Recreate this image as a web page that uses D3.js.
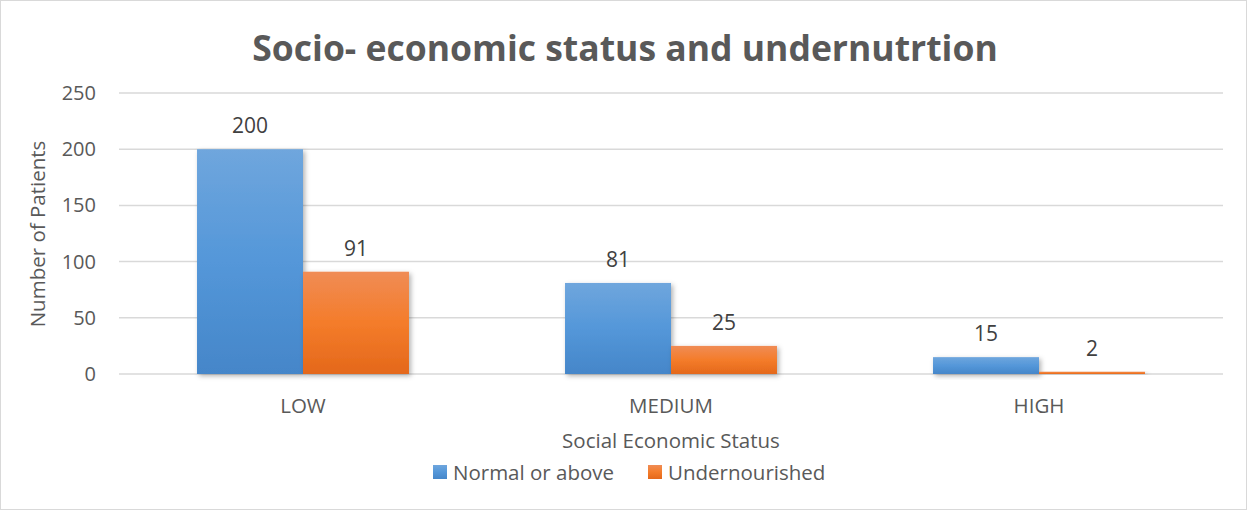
<!DOCTYPE html>
<html><head><meta charset="utf-8">
<script src="https://cdn.jsdelivr.net/npm/d3@7"></script>
<style>body{margin:0;background:#fff;font-family:"Open Sans",sans-serif;}</style>
</head><body><svg id="c" width="1249" height="511"></svg>
<script>
const categories = ["LOW", "MEDIUM", "HIGH"];
const seriesNames = ["Normal or above", "Undernourished"];
const normalValues = [200, 81, 15];
const underValues = [91, 25, 2];
const yTicks = [0, 50, 100, 150, 200, 250];

const svg = d3.select("#c");
const W = 1249, H = 511;
const m = {l:119, r:1223, t:93, b:374};

svg.append("rect").attr("x",0.5).attr("y",0.5).attr("width",W-3).attr("height",H-2)
  .attr("fill","#fff").attr("stroke","#d9d9d9");

const defs = svg.append("defs");
const g1 = defs.append("linearGradient").attr("id","gb").attr("x1",0).attr("y1",0).attr("x2",0).attr("y2",1);
g1.append("stop").attr("offset","0%").attr("stop-color","#6fa6dd");
g1.append("stop").attr("offset","50%").attr("stop-color","#5497d9");
g1.append("stop").attr("offset","100%").attr("stop-color","#4586c9");
const g2 = defs.append("linearGradient").attr("id","go").attr("x1",0).attr("y1",0).attr("x2",0).attr("y2",1);
g2.append("stop").attr("offset","0%").attr("stop-color","#f08c55");
g2.append("stop").attr("offset","50%").attr("stop-color","#f47c2a");
g2.append("stop").attr("offset","100%").attr("stop-color","#e4681b");
const f = defs.append("filter").attr("id","sh").attr("x","-20%").attr("y","-20%").attr("width","150%").attr("height","150%");
f.append("feDropShadow").attr("dx",2).attr("dy",2).attr("stdDeviation",2.5).attr("flood-color","#000").attr("flood-opacity",0.3);

const y = d3.scaleLinear().domain([0,250]).range([m.b, m.t]);
const x0 = d3.scaleBand().domain(categories).range([m.l, m.r]).paddingInner(0.424).paddingOuter(0.212);
const x1 = d3.scaleBand().domain(seriesNames).range([0, x0.bandwidth()]);

// gridlines
svg.append("g").selectAll("line").data(yTicks).join("line")
  .attr("x1",m.l).attr("x2",m.r).attr("y1",d=>y(d)).attr("y2",d=>y(d))
  .attr("stroke","#d9d9d9").attr("stroke-width",1.5);

// y axis
const ya = svg.append("g").attr("transform",`translate(${m.l},0)`)
  .call(d3.axisLeft(y).tickValues(yTicks).tickSize(0).tickPadding(23));
ya.select(".domain").remove();
ya.selectAll("text").attr("font-family","Open Sans, sans-serif").attr("font-size",20).attr("fill","#595959");

const data = categories.map((c,i)=>({cat:c, vals:[{s:seriesNames[0],v:normalValues[i]},{s:seriesNames[1],v:underValues[i]}]}));
const grads = {"Normal or above":"url(#gb)","Undernourished":"url(#go)"};

const gg = svg.append("g").selectAll("g").data(data).join("g").attr("transform",d=>`translate(${x0(d.cat)},0)`);
gg.selectAll("rect").data(d=>d.vals).join("rect")
  .attr("x",d=>x1(d.s)).attr("width",x1.bandwidth())
  .attr("y",d=>y(d.v)).attr("height",d=>y(0)-y(d.v))
  .attr("fill",d=>grads[d.s]).attr("filter","url(#sh)");
gg.selectAll("text").data(d=>d.vals).join("text")
  .attr("x",d=>x1(d.s)+x1.bandwidth()/2).attr("y",d=>y(d.v)-16)
  .attr("text-anchor","middle").attr("font-size",21).attr("fill","#404040").text(d=>d.v);

// x axis
const xa = svg.append("g").attr("transform",`translate(0,${m.b})`)
  .call(d3.axisBottom(x0).tickSize(0).tickPadding(24));
xa.select(".domain").remove();
xa.selectAll("text").attr("font-family","Open Sans, sans-serif").attr("font-size",20.5).attr("fill","#595959");

// titles
svg.append("text").attr("x",625).attr("y",61).attr("text-anchor","middle")
  .attr("font-size",35.5).attr("font-weight","bold").attr("fill","#595959")
  .text("Socio- economic status and undernutrtion");
svg.append("text").attr("x",671).attr("y",448).attr("text-anchor","middle")
  .attr("font-size",20.5).attr("fill","#595959").text("Social Economic Status");
svg.append("text").attr("transform","translate(45,234) rotate(-90)").attr("text-anchor","middle")
  .attr("font-size",20.5).attr("fill","#595959").text("Number of Patients");

// legend
const lx = [433, 648];
const lg = svg.append("g").selectAll("g").data(seriesNames).join("g")
  .attr("transform",(d,i)=>`translate(${lx[i]},465)`);
lg.append("rect").attr("width",14).attr("height",14).attr("fill",d=>grads[d]);
lg.append("text").attr("x",20).attr("y",15).attr("font-size",20.5).attr("fill","#595959").text(d=>d);
</script></body></html>
